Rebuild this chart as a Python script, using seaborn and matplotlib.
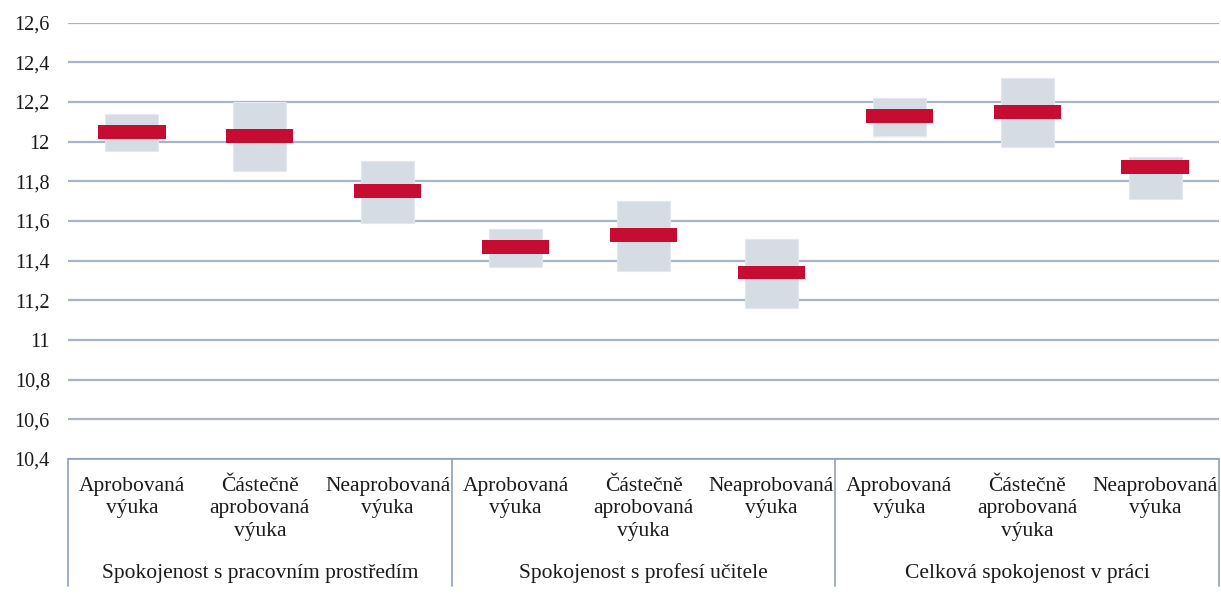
import matplotlib
matplotlib.use('Agg')

import matplotlib.pyplot as plt
import matplotlib.ticker as mticker
import seaborn as sns
import pandas as pd

# data
categories = ["Aprobovaná\nvýuka", "Částečně\naprobovaná\nvýuka", "Neaprobovaná\nvýuka"] * 3
groups = ["Spokojenost s pracovním prostředím",
          "Spokojenost s profesí učitele",
          "Celková spokojenost v práci"]
means = [12.05, 12.03, 11.75, 11.47, 11.53, 11.34, 12.13, 12.15, 11.87]
ci_low = [11.95, 11.85, 11.59, 11.37, 11.35, 11.16, 12.03, 11.97, 11.71]
ci_high = [12.14, 12.20, 11.90, 11.56, 11.70, 11.51, 12.22, 12.32, 11.92]

sns.set_theme(style="white")
plt.rcParams['font.family'] = ['Liberation Serif', 'DejaVu Serif']

df = pd.DataFrame({
    "pos": [f"c{i}" for i in range(len(means))],
    "mean": means,
    "low": ci_low,
    "span": [h - l for h, l in zip(ci_high, ci_low)],
})

fig = plt.figure(figsize=(12.21, 5.98), dpi=100)
ax = fig.add_axes([68 / 1221, 1 - 459 / 598, 1151 / 1221, (459 - 22.5) / 598])

grid_col = "#A7B3C6"
for v in [10.4 + 0.2 * i for i in range(12)]:
    ax.axhline(v, color=grid_col, lw=1.6, zorder=0)

# confidence interval boxes
sns.barplot(data=df, x="pos", y="span", bottom=df["low"], color="#D6DCE4",
            width=0.415, saturation=1, edgecolor="#E4E8EE", linewidth=0.8,
            ax=ax, zorder=2)
# mean markers
red_h = 0.07
sns.barplot(data=df, x="pos", y=[red_h] * len(means),
            bottom=[m - red_h / 2 for m in means], color="#C60C30",
            width=0.525, saturation=1, linewidth=0, ax=ax, zorder=3)

ax.set_xlim(-0.5, len(means) - 0.5)
ax.set_ylim(10.4, 12.6)
ax.yaxis.set_major_locator(mticker.MultipleLocator(0.2))
ax.yaxis.set_major_formatter(mticker.FuncFormatter(
    lambda v, p: f"{v:.1f}".rstrip("0").rstrip(".").replace(".", ",")))
ax.tick_params(axis="y", labelsize=14.5, length=0, pad=13, labelcolor="#1a1a1a")
ax.set_xticks([])
ax.set_xlabel("")
ax.set_ylabel("")
for s in ax.spines.values():
    s.set_visible(False)

tr = ax.get_xaxis_transform()
sep_col = "#8FA0BA"
ax.plot([-0.5, 8.5], [0, 0], color=sep_col, lw=1.2, transform=tr, clip_on=False)
for xb in [-0.5, 2.5, 5.5, 8.5]:
    ax.plot([xb, xb], [0, -0.29], color=sep_col, lw=1.2, transform=tr, clip_on=False)

for i, lab in enumerate(categories):
    ax.text(i, -0.041, lab, ha="center", va="top", fontsize=15.5,
            linespacing=1.24, transform=tr, color="#1a1a1a")
for g, lab in enumerate(groups):
    ax.text(3 * g + 1, -0.262, lab, ha="center", va="center", fontsize=15.5,
            transform=tr, color="#1a1a1a")

fig.savefig("out.png", dpi=100)
